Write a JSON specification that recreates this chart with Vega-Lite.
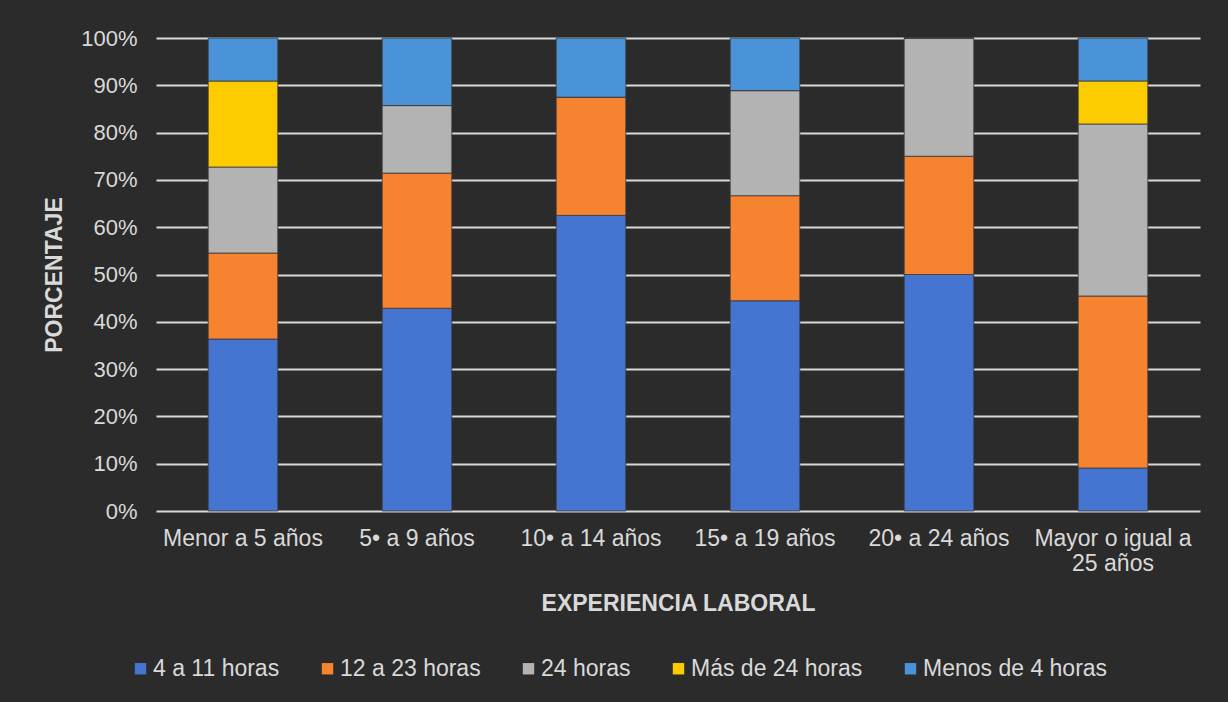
{
  "$schema": "https://vega.github.io/schema/vega-lite/v6.json",
  "autosize": "none",
  "width": 1044,
  "height": 473,
  "padding": {"left": 156, "top": 38, "right": 28, "bottom": 191},
  "background": "#2b2b2b",
  "data": {
    "values": [
      {"exp": "Menor a 5 años", "serie": "4 a 11 horas", "orden": 1, "pct": 36.36},
      {"exp": "Menor a 5 años", "serie": "12 a 23 horas", "orden": 2, "pct": 18.18},
      {"exp": "Menor a 5 años", "serie": "24 horas", "orden": 3, "pct": 18.18},
      {"exp": "Menor a 5 años", "serie": "Más de 24 horas", "orden": 4, "pct": 18.18},
      {"exp": "Menor a 5 años", "serie": "Menos de 4 horas", "orden": 5, "pct": 9.1},
      {"exp": "5• a 9 años", "serie": "4 a 11 horas", "orden": 1, "pct": 42.86},
      {"exp": "5• a 9 años", "serie": "12 a 23 horas", "orden": 2, "pct": 28.57},
      {"exp": "5• a 9 años", "serie": "24 horas", "orden": 3, "pct": 14.29},
      {"exp": "5• a 9 años", "serie": "Más de 24 horas", "orden": 4, "pct": 0},
      {"exp": "5• a 9 años", "serie": "Menos de 4 horas", "orden": 5, "pct": 14.28},
      {"exp": "10• a 14 años", "serie": "4 a 11 horas", "orden": 1, "pct": 62.5},
      {"exp": "10• a 14 años", "serie": "12 a 23 horas", "orden": 2, "pct": 25},
      {"exp": "10• a 14 años", "serie": "24 horas", "orden": 3, "pct": 0},
      {"exp": "10• a 14 años", "serie": "Más de 24 horas", "orden": 4, "pct": 0},
      {"exp": "10• a 14 años", "serie": "Menos de 4 horas", "orden": 5, "pct": 12.5},
      {"exp": "15• a 19 años", "serie": "4 a 11 horas", "orden": 1, "pct": 44.44},
      {"exp": "15• a 19 años", "serie": "12 a 23 horas", "orden": 2, "pct": 22.22},
      {"exp": "15• a 19 años", "serie": "24 horas", "orden": 3, "pct": 22.22},
      {"exp": "15• a 19 años", "serie": "Más de 24 horas", "orden": 4, "pct": 0},
      {"exp": "15• a 19 años", "serie": "Menos de 4 horas", "orden": 5, "pct": 11.12},
      {"exp": "20• a 24 años", "serie": "4 a 11 horas", "orden": 1, "pct": 50},
      {"exp": "20• a 24 años", "serie": "12 a 23 horas", "orden": 2, "pct": 25},
      {"exp": "20• a 24 años", "serie": "24 horas", "orden": 3, "pct": 25},
      {"exp": "20• a 24 años", "serie": "Más de 24 horas", "orden": 4, "pct": 0},
      {"exp": "20• a 24 años", "serie": "Menos de 4 horas", "orden": 5, "pct": 0},
      {"exp": "Mayor o igual a 25 años", "serie": "4 a 11 horas", "orden": 1, "pct": 9.09},
      {"exp": "Mayor o igual a 25 años", "serie": "12 a 23 horas", "orden": 2, "pct": 36.36},
      {"exp": "Mayor o igual a 25 años", "serie": "24 horas", "orden": 3, "pct": 36.37},
      {"exp": "Mayor o igual a 25 años", "serie": "Más de 24 horas", "orden": 4, "pct": 9.09},
      {"exp": "Mayor o igual a 25 años", "serie": "Menos de 4 horas", "orden": 5, "pct": 9.09}
    ]
  },
  "mark": {"type": "bar", "stroke": "#3a3a3a", "strokeWidth": 0.8},
  "encoding": {
    "x": {
      "field": "exp",
      "type": "nominal",
      "sort": null,
      "scale": {"paddingInner": 0.6, "paddingOuter": 0.3},
      "axis": {
        "title": "EXPERIENCIA LABORAL",
        "labelAngle": 0,
        "labelPadding": 16,
        "labelFontSize": 23,
        "labelColor": "#d9d9d9",
        "labelFont": "Liberation Sans",
        "labelExpr": "datum.value == 'Mayor o igual a 25 años' ? ['Mayor o igual a', '25 años'] : datum.value",
        "labelLineHeight": 25,
        "labelLimit": 0,
        "labelOverlap": false,
        "ticks": false,
        "domain": false,
        "titleFontSize": 23,
        "titleFontWeight": "bold",
        "titleColor": "#d9d9d9",
        "titleFont": "Liberation Sans",
        "titleY": 92,
        "titleBaseline": "middle"
      }
    },
    "y": {
      "field": "pct",
      "type": "quantitative",
      "stack": "normalize",
      "scale": {"domain": [0, 1]},
      "axis": {
        "title": "PORCENTAJE",
        "format": ".0%",
        "values": [0, 0.1, 0.2, 0.3, 0.4, 0.5, 0.6, 0.7, 0.8, 0.9, 1],
        "labelOverlap": false,
        "labelPadding": 19,
        "labelFontSize": 22,
        "labelColor": "#d9d9d9",
        "labelFont": "Liberation Sans",
        "ticks": false,
        "domain": false,
        "grid": true,
        "gridColor": "#d9d9d9",
        "gridWidth": 2,
        "titleFontSize": 23,
        "titleFontWeight": "bold",
        "titleColor": "#d9d9d9",
        "titleFont": "Liberation Sans",
        "titleX": -102,
        "titleBaseline": "middle"
      }
    },
    "color": {
      "field": "serie",
      "type": "nominal",
      "sort": ["4 a 11 horas", "12 a 23 horas", "24 horas", "Más de 24 horas", "Menos de 4 horas"],
      "scale": {
        "domain": ["4 a 11 horas", "12 a 23 horas", "24 horas", "Más de 24 horas", "Menos de 4 horas"],
        "range": ["#4575d0", "#f5832f", "#b3b3b3", "#fdcc00", "#4b93d8"]
      },
      "legend": {
        "title": null,
        "orient": "none",
        "legendX": -27,
        "legendY": 619,
        "direction": "horizontal",
        "columns": 5,
        "columnPadding": 36,
        "symbolType": "square",
        "symbolSize": 130,
        "symbolStrokeWidth": 0,
        "labelOffset": 1,
        "labelFontSize": 23,
        "labelLimit": 0,
        "labelColor": "#d9d9d9",
        "labelFont": "Liberation Sans"
      }
    },
    "order": {"field": "orden", "type": "quantitative"}
  },
  "config": {"view": {"stroke": null}}
}
